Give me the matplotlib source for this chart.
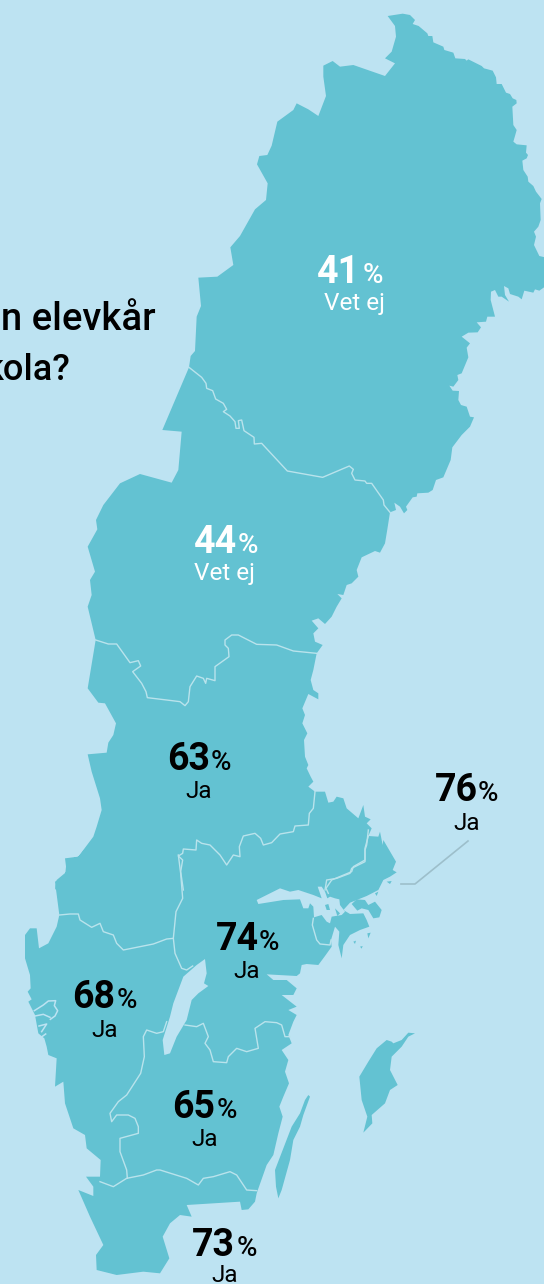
#!/usr/bin/env python3
import matplotlib
matplotlib.use("Agg")
import matplotlib.pyplot as plt
from matplotlib.patches import Polygon

BG = "#bde3f2"
LAND = "#63c2d2"
GRANS = "#b9e3ec"

# map outlines, read off enlarged (3x) crops of the picture
# crop A starts at (180, 0), crop B at (50, 470), crop C at (10, 840), crop D at (250, 830), crop E at (15, 920)
kust_a = [(623,48),(668,41),(690,45),(705,60),(698,72),(716,78),(742,100),(745,108),(757,108),(760,127),
          (790,140),(793,150),(820,158),(826,175),(855,177),(860,182),(865,178),(905,198),(912,205),(938,212),
          (948,232),(950,252),(965,252),(978,278),(990,282),(998,295),(1009,300),(1010,310),(997,320),(1000,375),
          (1010,390),(1005,408),(1000,425),(1010,433),(1040,436),(1038,458),(1044,465),(1040,475),(1027,482),
          (1030,510),(1043,530),(1045,545),(1060,558),(1068,575),(1085,597),(1080,610),(1082,660),(1075,680),
          (1062,695),(1068,710),(1062,735),(1078,768),(1095,772),(1095,860),(1078,872),(1065,868),(1060,878),
          (1033,872),(1025,898),(1015,890),(990,882),(985,865),(972,858),(975,885),(987,905),(965,890),(955,890),
          (945,870),(933,875),(932,900),(945,950),(922,950),(918,965),(890,967),(903,982),(893,997),(865,998),
          (845,1010),(870,1030),(860,1043),(865,1072),(845,1120),(832,1125),(835,1140),(820,1160),(808,1157),
          (818,1172),(837,1173),(835,1200),(843,1215),(860,1220),(870,1250),(882,1252),(870,1280),(845,1305),
          (817,1342),(812,1380),(790,1432),(768,1440),(758,1470),(745,1478),(712,1480),(710,1490),(698,1492),
          (678,1520),(682,1530),(672,1540),(660,1520),(643,1508),(648,1530),(630,1537)]
kust_b = [(1012,178),(1005,220),(990,248),(975,243),(935,262),(920,300),(925,320),(905,340),(890,345),(880,375),
          (862,372),(875,385),(860,410),(845,440),(825,462),(805,445),(785,452),(805,475),(790,490),(795,515),
          (818,525),(800,550),(790,600),(782,630),(790,660),(805,670),(805,688),(775,672),(757,715),(765,735),
          (757,760),(772,790),(762,810),(765,860),(775,885),(770,895),(782,920),(790,935),(775,950),(795,965),
          (825,965),(835,998),(850,995),(860,980),(880,985),(890,1015),(925,1045),(940,1005),(945,1040),(962,1048),
          (950,1060),(965,1075),(955,1098),(985,1100),(990,1085),(998,1125)]
kust_c1 = [(1120,0),(1158,65),(1148,90),(1160,97),(1140,110)]
kust_d = [(400,150),(385,180),(350,198),(320,210),(300,218),(280,240),(300,252),(340,250),(350,270),(358,290),
          (330,300),(300,315),(280,345),(275,385),(265,345),(268,305),(255,290),(243,330),(245,350),(225,378),
          (205,405),(170,402),(155,405)]
kust_c2 = [(870,400),(860,408),(770,403),(790,420),(830,420),(860,445),(850,465),(815,465),(860,500),(835,510),
           (860,525),(850,545),(835,585),(845,610),(815,630),(835,660),(825,695),(837,730),(820,770),(808,800),
           (818,830),(805,880),(790,945),(770,975),(740,1060),(735,1085),(715,1108),(695,1110),(690,1085),(530,1095),
           (545,1130),(510,1125),(480,1150),(458,1190),(478,1255),(450,1300),(400,1295),(320,1305),(260,1290),
           (258,1245),(280,1215),(240,1130),(205,1050),(250,1068),(250,1040),(228,1010),(270,1010),(272,960),
           (230,925),(225,885),(190,865),(165,790),(160,725),(135,740),(140,655),(115,645),(110,620),(103,595),
           (85,580),(75,525),(55,485),(65,478),(53,455),(62,445),(60,405),(45,355),(45,285),(60,265),(80,265),
           (87,325),(115,310),(140,260),(148,225),(135,125),(165,110),(170,60),(205,50),(250,0)]
kust_b2 = [(15,1260),(20,1230),(50,1205),(45,1165),(85,1160),(130,1100),(140,1070),(155,1020),(150,985),(125,905),
           (113,853),(170,848),(175,818),(190,795),(198,760),(165,700),(145,698),(113,655),(137,510),(113,410),
           (125,375),(120,330),(135,305),(113,230),(142,178),(138,150),(160,105),(210,40),(270,12),(365,38),(385,0),
           (395,-115),(337,-120)]
kust_a2 = [(27,1102),(32,1068),(45,1053),(50,950),(63,918),(55,833),(112,830),(160,795),(151,742),(180,708),
           (225,628),(258,600),(263,550),(231,493),(238,468),(262,465),(275,437),(292,365),(340,330),(350,310),
           (385,328),(415,348),(438,288),(430,230),(430,197),(458,183),(480,200),(520,195),(615,228),(645,190),
           (615,175),(635,155),(648,110),(645,78)]
gotland_c = [(1130,600),(1145,605),(1150,610),(1175,600),(1195,578),(1215,580),(1195,590),(1175,620),(1145,650),
             (1140,690),(1163,735),(1140,750),(1125,790),(1085,825),(1087,850),(1060,878),(1072,830),(1055,780),
             (1048,710),(1075,665),(1100,625)]
oland_c = [(895,765),(900,770),(880,825),(870,860),(850,900),(840,960),(815,1050),(805,1075),(798,1040),(795,990),
           (820,925),(845,860),(870,820),(885,780)]
vattern_c = [(585,357),(590,400),(582,430),(595,438),(565,460),(545,480),(530,540),(500,590),(480,640),(463,645),
             (458,600),(480,530),(490,490),(520,410),(560,375)]
malaren_d = [(20,210),(25,222),(100,210),(150,208),(160,235),(175,235),(180,220),(190,230),(192,262),(215,255),
             (230,275),(240,280),(245,260),(275,255),(285,245),(270,225),(268,208),(255,205),(240,200),(232,205),
             (225,185),(215,170),(203,170),(215,205),(190,195),(145,180),(120,185),(90,175)]
skargard_d = [[(305,222),(320,208),(345,210),(355,225),(375,215),(395,240),(388,262),(370,265),(355,240),(335,235),(322,242)],
              [(410,155),(425,153),(420,162)],
              [(375,190),(385,185),(380,198)],
              [(352,310),(362,308),(355,325)],
              [(310,335),(318,332),(315,342)],
              [(330,350),(338,348),(335,356)],
              [(225,225),(235,222),(240,240),(230,240)],
              [(255,235),(270,250),(262,258)]]
fjordar_e = [[(58,272),(85,255),(100,243),(122,242),(118,257),(128,272),(120,288),(106,298)],
             [(60,288),(85,283),(105,292)],
             [(72,318),(95,312),(80,335)],
             [(78,352),(92,342)]]

# region borders
grans_a = [(27,1102),(65,1132),(78,1150),(80,1165),(98,1172),(107,1197),(130,1210),(140,1228),(130,1235),(150,1248),
           (165,1265),(168,1285),(178,1285),(175,1262),(185,1260),(192,1292),(222,1312),(223,1332),(245,1330),
           (322,1413),(428,1432),(508,1398),(520,1408),(515,1420),(525,1440),(555,1443),(560,1450),(575,1450),
           (610,1500),(612,1515),(630,1537)]
grans_b1 = [(137,510),(175,522),(200,522),(240,578),(265,572),(272,588),(248,605),(275,640),(288,665),(292,683),
            (350,690),(390,695),(405,707),(415,695),(420,650),(440,618),(460,625),(467,640),(470,625),(495,632),
            (495,590),(537,560),(535,535),(525,525),(525,510),(545,495),(565,495),(620,523),(680,525),(730,543),
            (800,550)]
grans_b2 = [(795,965),(790,1015),(778,1030),(775,1065),(735,1068),(730,1085),(690,1092),(665,1118),(640,1125),
            (632,1105),(615,1090),(580,1098),(568,1130),(570,1160),(550,1155),(530,1185),(510,1155),(480,1125),
            (455,1120),(440,1110),(438,1140),(400,1137),(398,1150),(385,1158),(398,1170),(392,1205),(400,1260)]
grans_c1 = [(505,45),(512,100),(518,175),(498,215),(490,295),(495,340),(515,385),(530,390),(548,378)]
grans_c2 = [(490,295),(470,297),(430,312),(340,330),(320,310),(310,285),(280,275),(270,250),(245,262),(210,240),
            (205,222),(180,222),(148,225)]
grans_d1 = [(355,0),(350,45),(345,60),(345,90),(310,110),(305,125),(245,150),(228,175),(235,190)]
grans_d2 = [(190,265),(187,285),(200,330),(210,342),(240,345),(243,330)]
grans_c5 = [(525,555),(560,560),(580,550),(595,590),(585,610),(600,630),(610,665),(650,668),(655,650),(680,625),
            (710,635),(745,625),(735,565),(765,545),(800,548),(815,555),(825,590),(840,590)]
grans_c6 = [(470,545),(460,575),(440,580),(410,570),(400,590),(403,650),(392,700),(350,765),(325,785),(300,820),
            (305,845),(320,825),(355,825),(375,835),(385,860),(385,880),(330,895),(330,935),(350,990),(352,1015)]
grans_c7 = [(270,1025),(310,1040),(350,1015),(400,1005),(440,990),(450,990),(530,1015),(565,1035),(580,1015),
            (610,1010),(660,995),(680,1005),(710,1050),(740,1052)]
grans_b3 = [(955,1098),(945,1135),(945,1175),(905,1195),(900,1210),(860,1225),(830,1230),(825,1260)]

# labels
procent = [41, 44, 63, 76, 74, 68, 65, 73]
svar = ["Vet ej", "Vet ej", "Ja", "Ja", "Ja", "Ja", "Ja", "Ja"]
fraga = ["n elevkår", "kola?"]


def crop(pts, x0, y0):
    return [(x0 + x / 3, y0 + y / 3) for x, y in pts]


def a(pts):
    return crop(pts, 180, 0)


def b(pts):
    return crop(pts, 50, 470)


def c(pts):
    return crop(pts, 10, 840)


def d(pts):
    return crop(pts, 250, 830)


def e(pts):
    return crop(pts, 15, 920)


plt.rcParams["font.family"] = ["Roboto", "DejaVu Sans"]

fig = plt.figure(figsize=(5.44, 12.84), dpi=100, facecolor=BG)
ax = fig.add_axes([0, 0, 1, 1])
ax.set_xlim(0, 544)
ax.set_ylim(1284, 0)
ax.axis("off")

fastland = a(kust_a) + b(kust_b) + c(kust_c1) + d(kust_d) + c(kust_c2) + b(kust_b2) + a(kust_a2)
ax.add_patch(Polygon(fastland, closed=True, fc=LAND, ec="none"))
for o in [c(gotland_c), c(oland_c)] + [d(s) for s in skargard_d[:1]]:
    ax.add_patch(Polygon(o, closed=True, fc=LAND, ec="none"))
for sjo in [c(vattern_c), d(malaren_d)]:
    ax.add_patch(Polygon(sjo, closed=True, fc=BG, ec="none"))
for f in fjordar_e:
    ax.plot(*zip(*e(f)), color=BG, lw=1.1)
for s in skargard_d[1:]:
    ax.add_patch(Polygon(d(s), closed=True, fc=LAND, ec="none"))

for linje in [a(grans_a), b(grans_b1), b(grans_b2), b(grans_b3), c(grans_c1), c(grans_c2), d(grans_d1),
              d(grans_d2), c(grans_c5), c(grans_c6), c(grans_c7)]:
    ax.plot(*zip(*linje), color=GRANS, lw=1.0, solid_joinstyle="round")

# callout for Stockholm
ax.plot([401, 415, 468], [884, 884, 841], color="#9dbfcb", lw=1.2)

# x of digit end, x of percent start, digit baseline, x of answer centre, answer baseline
pos = [(360, 363, 283, 354, 310), (237, 238, 553, 225, 580), (210, 211, 770, 199, 798), (478, 478, 801, 467, 830),
       (259, 259, 950, 247, 978), (115, 117, 1008, 105, 1037), (215, 217, 1118, 205, 1146), (235, 237, 1256, 225, 1282)]
for p, s, (xe, xp, y, xs, ys) in zip(procent, svar, pos):
    col = "white" if s == "Vet ej" else "black"
    ax.text(xe, y, str(p), color=col, fontsize=27, fontweight="bold", ha="right", va="baseline")
    ax.text(xp, y, "%", color=col, fontsize=20, fontweight="medium", ha="left", va="baseline")
    ax.text(xs, ys, s, color=col, fontsize=17.5, fontweight="normal", ha="center", va="baseline")

ax.text(156, 330, fraga[0], color="black", fontsize=27.5, fontweight="medium", ha="right", va="baseline")
ax.text(71, 380, fraga[1], color="black", fontsize=26, fontweight="medium", ha="right", va="baseline")

fig.savefig("out.png", dpi=100, facecolor=BG)
